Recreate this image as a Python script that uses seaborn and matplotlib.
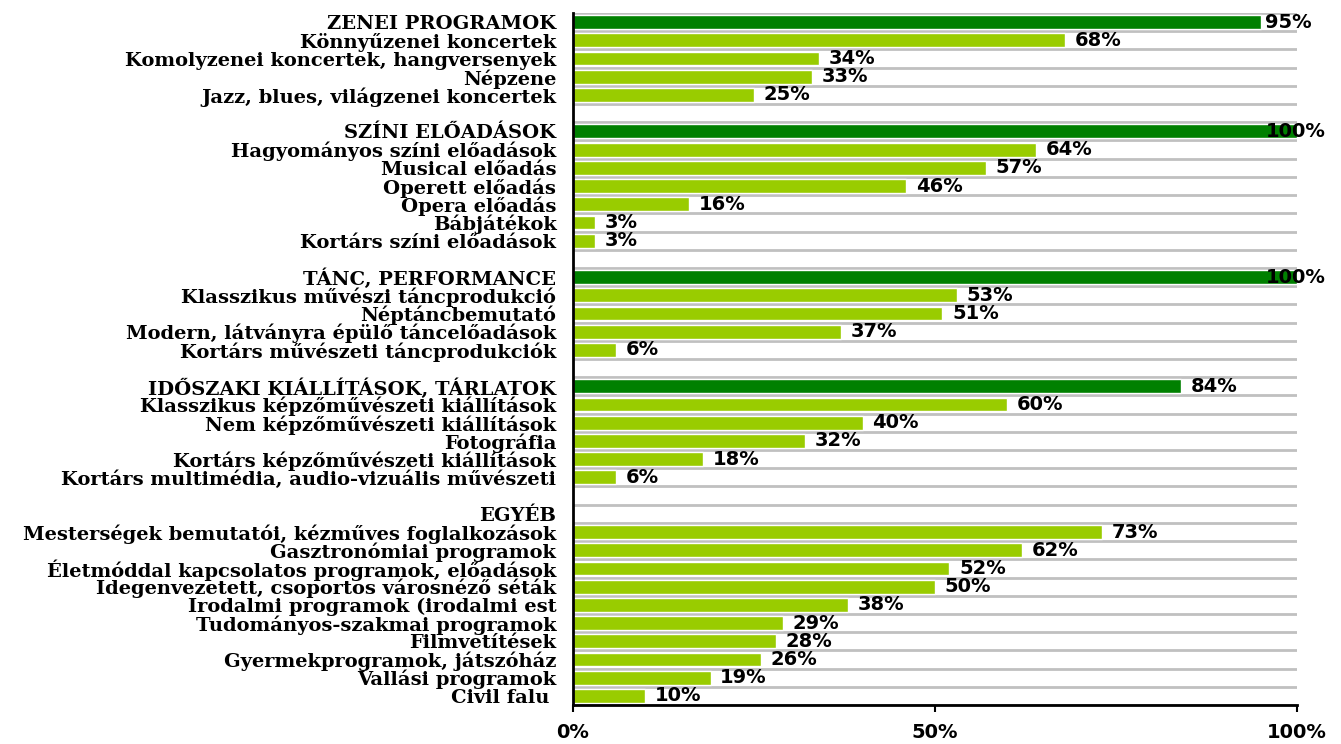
import numpy as np
import pandas as pd
import matplotlib
matplotlib.use("Agg")
import matplotlib.pyplot as plt
import seaborn as sns

# sorok felülről lefelé; az üres sorok a csoportok közti hézagok
labels = [
    "ZENEI PROGRAMOK", "Könnyűzenei koncertek", "Komolyzenei koncertek, hangversenyek",
    "Népzene", "Jazz, blues, világzenei koncertek", " ",
    "SZÍNI ELŐADÁSOK", "Hagyományos színi előadások", "Musical előadás", "Operett előadás",
    "Opera előadás", "Bábjátékok", "Kortárs színi előadások", "  ",
    "TÁNC, PERFORMANCE", "Klasszikus művészi táncprodukció", "Néptáncbemutató",
    "Modern, látványra épülő táncelőadások", "Kortárs művészeti táncprodukciók", "   ",
    "IDŐSZAKI KIÁLLÍTÁSOK, TÁRLATOK", "Klasszikus képzőművészeti kiállítások",
    "Nem képzőművészeti kiállítások", "Fotográfia", "Kortárs képzőművészeti kiállítások",
    "Kortárs multimédia, audio-vizuális művészeti", "    ",
    "EGYÉB", "Mesterségek bemutatói, kézműves foglalkozások", "Gasztronómiai programok",
    "Életmóddal kapcsolatos programok, előadások", "Idegenvezetett, csoportos városnéző séták",
    "Irodalmi programok (irodalmi est", "Tudományos-szakmai programok", "Filmvetítések",
    "Gyermekprogramok, játszóház", "Vallási programok", "Civil falu ",
]
values = [
    95, 68, 34, 33, 25, None,
    100, 64, 57, 46, 16, 3, 3, None,
    100, 53, 51, 37, 6, None,
    84, 60, 40, 32, 18, 6, None,
    None, 73, 62, 52, 50, 38, 29, 28, 26, 19, 10,
]
kinds = [
    "fő", "al", "al", "al", "al", "",
    "fő", "al", "al", "al", "al", "al", "al", "",
    "fő", "al", "al", "al", "al", "",
    "fő", "al", "al", "al", "al", "al", "",
    "fő", "al", "al", "al", "al", "al", "al", "al", "al", "al", "al",
]
colors = {"fő": "#008000", "al": "#99CC00"}

df = pd.DataFrame({"label": labels, "value": values, "kind": kinds}).dropna(subset=["value"])

sns.set_style("white")
plt.rcParams["font.family"] = ["DejaVu Sans"]
plt.rcParams["text.color"] = "black"
plt.rcParams["xtick.color"] = "black"
plt.rcParams["ytick.color"] = "black"

fig = plt.figure(figsize=(13.41, 7.44), dpi=100)
ax = fig.add_axes([0.4273, 0.0524, 0.9672 - 0.4273, 0.9825 - 0.0524])

sns.barplot(data=df, x="value", y="label", hue="kind", order=labels, palette=colors,
            dodge=False, width=0.76, saturation=1, legend=False, ax=ax, zorder=3)

for i, (v, lab) in enumerate(zip(values, labels)):
    if v is None:
        continue
    ax.annotate(f"{v}%", xy=(min(v, 94.3), i), xytext=(7, 0), textcoords="offset points",
                va="center", ha="left", fontsize=14, fontweight="bold", color="black", zorder=5)

ax.set_xlim(0, 100)
ax.set_ylim(len(labels) - 0.5, -0.5)
ax.set_xticks([0, 50, 100])
ax.set_xticklabels(["0%", "50%", "100%"], fontsize=14, fontweight="bold")
ax.set_yticks(np.arange(-0.5, len(labels)), minor=True)
ax.set_yticklabels(labels, fontsize=14, fontweight="bold", family="DejaVu Serif")
ax.grid(axis="y", which="minor", color="#c0c0c0", linewidth=2, zorder=0)
ax.grid(axis="x", visible=False)
ax.tick_params(axis="y", which="major", length=0, pad=12)
ax.tick_params(axis="y", which="minor", length=4, width=1.5, direction="out", color="black")
ax.tick_params(axis="x", length=5, width=1.5, direction="out", pad=8, color="black", bottom=True)
ax.set_xlabel("")
ax.set_ylabel("")
for s in ["top", "right"]:
    ax.spines[s].set_visible(False)
for s in ["left", "bottom"]:
    ax.spines[s].set_linewidth(2)
    ax.spines[s].set_color("black")
    ax.spines[s].set_zorder(6)

fig.savefig("out.png", dpi=100)
